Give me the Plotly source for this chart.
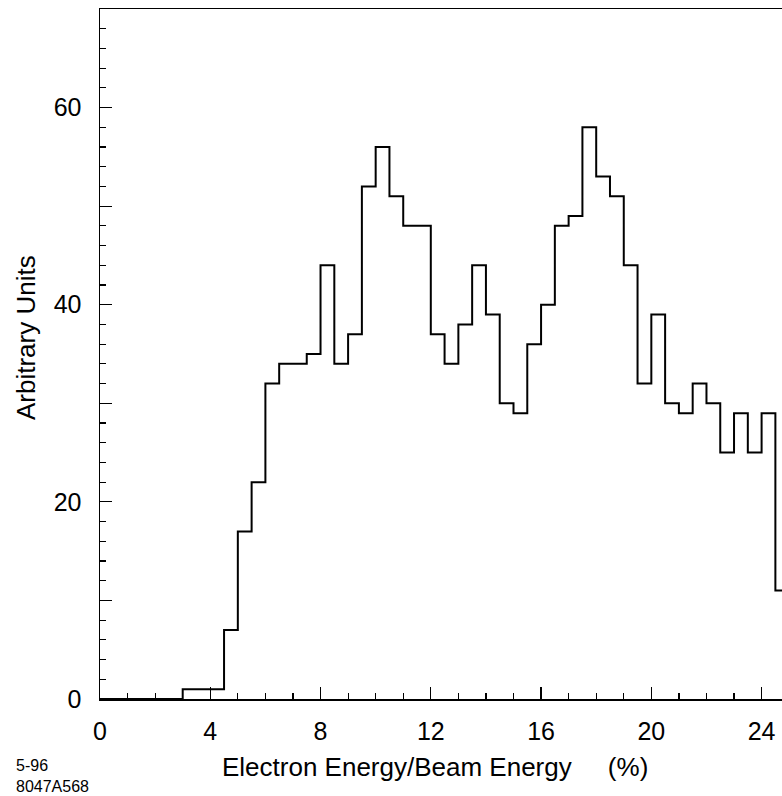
import plotly.graph_objects as go

# Histogram data (bin width 0.5 %, starting at 0)
bin_start = 0.0
bin_width = 0.5
counts = [0, 0, 0, 0, 0, 0, 1, 1, 1, 7,
          17, 22, 32, 34, 34, 35, 44, 34, 37, 52,
          56, 51, 48, 48, 37, 34, 38, 44, 39, 30,
          29, 36, 40, 48, 49, 58, 53, 51, 44, 32,
          39, 30, 29, 32, 30, 25, 29, 25, 29, 11]

x_tick_vals = [0, 4, 8, 12, 16, 20, 24]
x_tick_text = ["0", "4", "8", "12", "16", "20", "24"]
y_tick_vals = [0, 10, 20, 30, 40, 50, 60]
y_tick_text = ["0", "", "20", "", "40", "", "60"]

edges = [bin_start + i * bin_width for i in range(len(counts) + 1)]
ys = counts + [counts[-1]]

FONT = "Liberation Sans, Arial, sans-serif"

fig = go.Figure()
fig.add_trace(go.Scatter(x=edges, y=ys, mode="lines",
                         line=dict(color="black", width=2, shape="hv"),
                         showlegend=False, hoverinfo="skip"))

fig.update_layout(
    width=782, height=796,
    margin=dict(l=100, r=0, t=9, b=97),
    paper_bgcolor="white", plot_bgcolor="white",
    font=dict(family=FONT, color="black"),
    xaxis=dict(range=[0, 24.74], showgrid=False, zeroline=False,
               showline=True, linecolor="black", linewidth=1.5, mirror=True,
               tickmode="array", tickvals=x_tick_vals, ticktext=x_tick_text,
               ticks="inside", ticklen=12, tickwidth=1.2, tickcolor="black",
               tickfont=dict(size=25, family=FONT, color="black"),
               ticklabelstandoff=9,
               minor=dict(dtick=1, ticks="inside", ticklen=6, tickwidth=1.2,
                          tickcolor="black", showgrid=False)),
    yaxis=dict(range=[0, 70], showgrid=False, zeroline=False,
               showline=True, linecolor="black", linewidth=1.5, mirror=False,
               tickmode="array", tickvals=y_tick_vals, ticktext=y_tick_text,
               ticks="inside", ticklen=12, tickwidth=1.2, tickcolor="black",
               tickfont=dict(size=25, family=FONT, color="black"),
               ticklabelstandoff=12,
               minor=dict(dtick=2, ticks="inside", ticklen=6, tickwidth=1.2,
                          tickcolor="black", showgrid=False)),
    annotations=[
        dict(text="Electron Energy/Beam Energy\u00a0\u00a0\u00a0\u00a0\u00a0(%)",
             xref="paper", yref="paper", x=(435 - 100) / 682, y=-(767 - 699) / 690,
             xanchor="center", yanchor="middle", showarrow=False,
             font=dict(size=26, family=FONT, color="black")),
        dict(text="Arbitrary Units", textangle=-90,
             xref="paper", yref="paper", x=-(100 - 26) / 682, y=(699 - 338) / 690,
             xanchor="center", yanchor="middle", showarrow=False,
             font=dict(size=26, family=FONT, color="black")),
        dict(text="5-96<br>8047A568", align="left",
             xref="paper", yref="paper", x=-(100 - 14) / 682, y=-(776 - 699) / 690,
             xanchor="left", yanchor="middle", showarrow=False,
             font=dict(size=16, family=FONT, color="black")),
    ],
)

fig.write_html("out.html",
               config={"displayModeBar": False, "staticPlot": True},
               post_script="document.body.style.margin='0';document.body.style.overflow='hidden';")
